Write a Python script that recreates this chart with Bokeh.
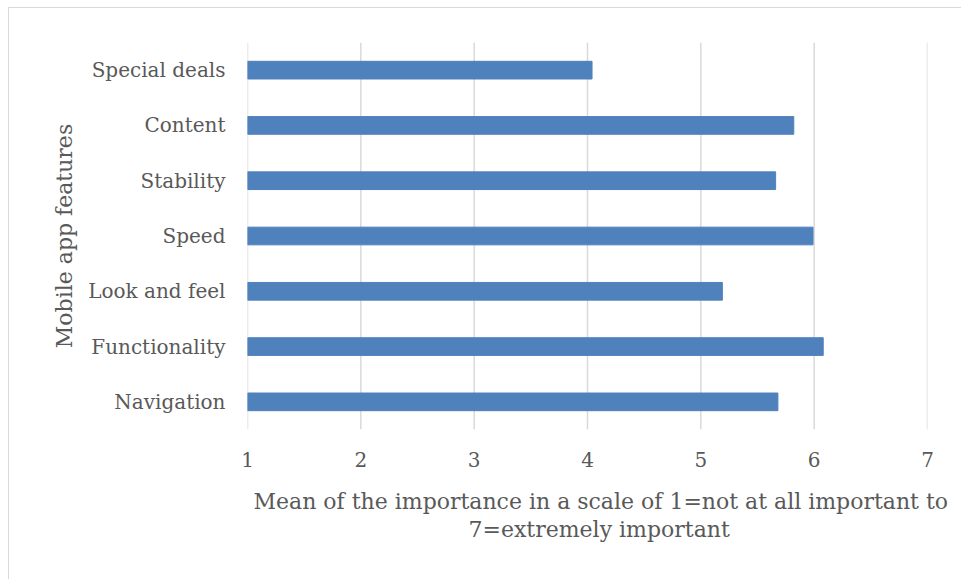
from bokeh.plotting import figure
from bokeh.models import FixedTicker, Range1d, Span, Title
from bokeh.embed import file_html
from bokeh.resources import INLINE

# Mean importance of mobile app features (1-7 scale), listed bottom to top
features = ["Navigation", "Functionality", "Look and feel", "Speed",
            "Stability", "Content", "Special deals"]
means = [5.68, 6.08, 5.19, 5.99, 5.66, 5.82, 4.04]
x_ticks = [1, 2, 3, 4, 5, 6, 7]

x_title_lines = ["Mean of the importance in a scale of 1=not at all important to",
                 "7=extremely important"]
y_title = "Mobile app features"

FONT = "DejaVu Serif"
TEXT = "#595959"
GRID = "#d9d9d9"
BAR = "#4f81bd"

W, H = 953, 572
p = figure(width=W, height=H, y_range=features, x_range=Range1d(1, 7),
           output_backend="svg", toolbar_location=None,
           min_border_left=238, min_border_right=35,
           min_border_top=34, min_border_bottom=151)
p.margin = (7, 0, 0, 8)
p.styles = {"border-left": "1px solid #d9d9d9", "border-top": "1px solid #d9d9d9"}

# vertical gridlines, including both ends of the scale
for t in x_ticks:
    p.add_layout(Span(location=t, dimension="height",
                      line_color=GRID, line_width=1.5, level="underlay"))

p.hbar(y=features, left=1, right=means, height=0.32, color=BAR)

p.outline_line_color = None
p.background_fill_color = "white"
p.border_fill_color = "white"
p.y_range.range_padding = 0
p.xgrid.grid_line_color = None
p.ygrid.grid_line_color = None

p.xaxis.ticker = FixedTicker(ticks=x_ticks)
for ax in (p.xaxis[0], p.yaxis[0]):
    ax.axis_line_color = None
    ax.major_tick_line_color = None
    ax.minor_tick_line_color = None
    ax.major_tick_out = 0
    ax.major_tick_in = 0
    ax.major_label_text_font = FONT
    ax.major_label_text_font_size = "20px"
    ax.major_label_text_color = TEXT

p.xaxis.major_label_standoff = 22
p.yaxis.major_label_standoff = 22

p.yaxis.axis_label = y_title
p.yaxis.axis_label_text_font = FONT
p.yaxis.axis_label_text_font_size = "22px"
p.yaxis.axis_label_text_font_style = "normal"
p.yaxis.axis_label_text_color = TEXT
p.yaxis.axis_label_standoff = 8

# gap between the tick labels and the axis title
p.add_layout(Title(text=" ", text_font_size="1px", standoff=14), "below")

# two-line horizontal axis title below the tick labels
title_offsets = [6, 221]
title_standoffs = [0, 3]
for line, off, gap in zip(x_title_lines, title_offsets, title_standoffs):
    p.add_layout(Title(text=line, align="left", offset=off,
                       text_font=FONT, text_font_size="22px",
                       text_font_style="normal", text_color=TEXT,
                       standoff=gap), "below")

open("out.html", "w").write(file_html(p, INLINE))
